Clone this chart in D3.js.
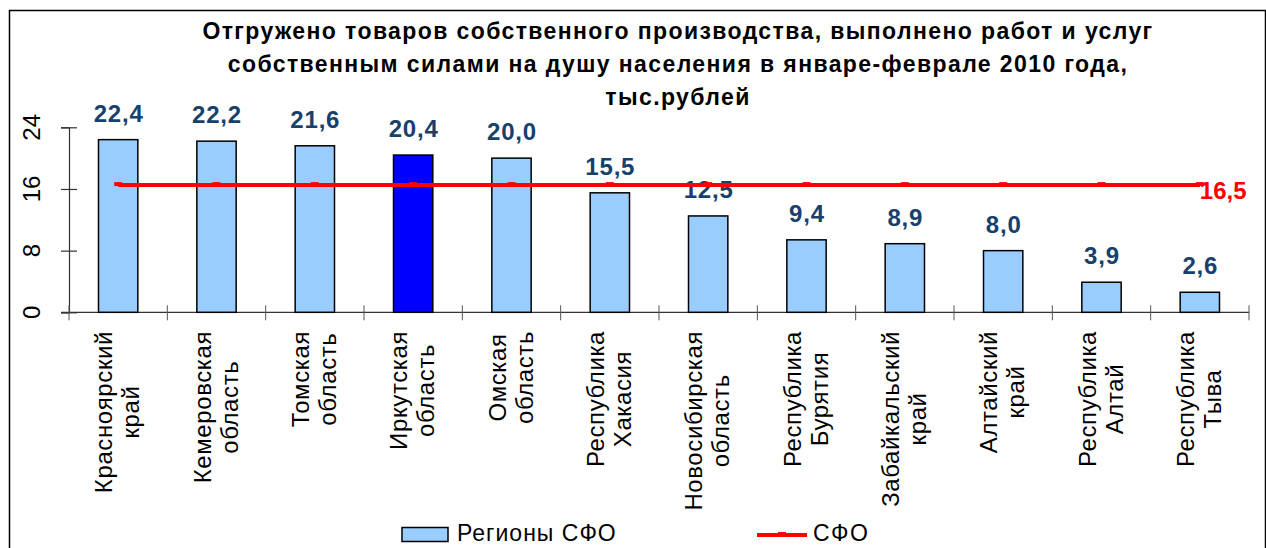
<!DOCTYPE html>
<html>
<head>
<meta charset="utf-8">
<script src="https://cdn.jsdelivr.net/npm/d3@7"></script>
<style>
  body { margin: 0; background: #fff; }
  svg { display: block; font-family: Arial, "Liberation Sans", sans-serif; }
</style>
</head>
<body>
<svg id="chart" width="1266" height="548"></svg>
<script>
var titleLines = [
	"Отгружено товаров собственного производства, выполнено работ и услуг",
	"собственным силами на душу населения в январе-феврале 2010 года,",
	"тыс.рублей"
];
var regions = [
	["Красноярский", "край"],
	["Кемеровская", "область"],
	["Томская", "область"],
	["Иркутская", "область"],
	["Омская", "область"],
	["Республика", "Хакасия"],
	["Новосибирская", "область"],
	["Республика", "Бурятия"],
	["Забайкальский", "край"],
	["Алтайский", "край"],
	["Республика", "Алтай"],
	["Республика", "Тыва"]
];
var values = [22.4, 22.2, 21.6, 20.4, 20.0, 15.5, 12.5, 9.4, 8.9, 8.0, 3.9, 2.6];
var sfo = 16.5;
var highlight = "Иркутская";
var yTicks = [0, 8, 16, 24];
var legendNames = ["Регионы СФО", "СФО"];

var svg = d3.select("#chart");
var fmt = function(v) { return d3.format(".1f")(v).replace(".", ","); };

// frame
svg.append("rect")
	.attr("x", 9.5).attr("y", 10.5)
	.attr("width", 1256).attr("height", 600)
	.attr("fill", "none").attr("stroke", "#000").attr("stroke-width", 1.5);

// title
svg.append("g").selectAll("text")
	.data(titleLines)
	.enter().append("text")
	.attr("x", 678)
	.attr("y", function(d, i) { return 39 + i * 33; })
	.attr("text-anchor", "middle")
	.attr("font-size", 23)
	.attr("font-weight", "bold")
	.attr("letter-spacing", 1.4)
	.attr("fill", "#000")
	.text(function(d) { return d; });

var idx = d3.range(values.length);
var x = d3.scaleBand().domain(idx).range([69, 1249]).padding(0);
var y = d3.scaleLinear().domain([0, 24]).range([312.3, 127.3]);
var bw = x.bandwidth() * 0.4;
var cx = function(i) { return x(i) + x.bandwidth() / 2; };

// y axis
var yAxis = svg.append("g")
	.attr("transform", "translate(69,0)")
	.call(d3.axisLeft(y).tickValues(yTicks).tickSize(8).tickFormat(""));
yAxis.select(".domain").attr("stroke", "#333").attr("stroke-width", 1.2);
yAxis.selectAll(".tick line").attr("x1", 8).attr("stroke", "#333").attr("stroke-width", 1.2);

svg.append("g").selectAll("text")
	.data(yTicks)
	.enter().append("text")
	.attr("transform", function(d) { return "translate(31," + y(d) + ") rotate(-90)"; })
	.attr("text-anchor", "middle")
	.attr("dominant-baseline", "central")
	.attr("font-size", 24)
	.attr("fill", "#000")
	.text(function(d) { return d; });

// x axis
var xg = svg.append("g");
xg.append("line")
	.attr("x1", 61).attr("x2", x.range()[1])
	.attr("y1", y(0)).attr("y2", y(0))
	.attr("stroke", "#333").attr("stroke-width", 1.2);
xg.selectAll(".xt")
	.data(d3.range(values.length + 1))
	.enter().append("line")
	.attr("class", "xt")
	.attr("x1", function(d) { return 69 + d * x.step(); })
	.attr("x2", function(d) { return 69 + d * x.step(); })
	.attr("y1", y(0) - 7).attr("y2", y(0) + 8)
	.attr("stroke", "#555").attr("stroke-width", 1);

// bars
svg.append("g").selectAll("rect")
	.data(idx)
	.enter().append("rect")
	.attr("x", function(i) { return x(i) + (x.bandwidth() - bw) / 2; })
	.attr("y", function(i) { return y(values[i]); })
	.attr("width", bw)
	.attr("height", function(i) { return y(0) - y(values[i]); })
	.attr("fill", function(i) { return regions[i][0] == highlight ? "#0000FF" : "#99CCFF"; })
	.attr("stroke", "#000").attr("stroke-width", 1.5);

// value labels
svg.append("g").selectAll("text")
	.data(idx)
	.enter().append("text")
	.attr("x", function(i) { return cx(i) + 0.5; })
	.attr("y", function(i) { return y(values[i]) - 18; })
	.attr("text-anchor", "middle")
	.attr("font-size", 24)
	.attr("font-weight", "bold")
	.attr("letter-spacing", 0.8)
	.attr("fill", "#17406d")
	.text(function(i) { return fmt(values[i]); });

// SFO line
var line = d3.line().x(function(i) { return cx(i); }).y(function() { return y(sfo); });
svg.append("path")
	.datum(idx)
	.attr("d", line)
	.attr("fill", "none").attr("stroke", "#FF0000").attr("stroke-width", 4);
svg.append("g").selectAll("rect")
	.data(idx)
	.enter().append("rect")
	.attr("x", function(i) { return cx(i) - 4; })
	.attr("y", y(sfo) - 3)
	.attr("width", 8).attr("height", 4)
	.attr("fill", "#FF0000");
svg.append("text")
	.attr("x", cx(values.length - 1))
	.attr("y", y(sfo) + 14)
	.attr("font-size", 24)
	.attr("font-weight", "bold")
	.attr("fill", "#FF0000")
	.text(fmt(sfo));

// category labels, rotated, lines centred on each other
var lab = svg.append("g").selectAll("text")
	.data(idx)
	.enter().append("text")
	.attr("font-size", 24)
	.attr("letter-spacing", 0.6)
	.attr("fill", "#000")
	.attr("text-anchor", "middle");
lab.each(function(i) {
	var t = d3.select(this);
	var n = regions[i].length;
	regions[i].forEach(function(s, k) {
		t.append("tspan")
			.attr("x", 0)
			.attr("y", (k - (n - 1) / 2) * 27)
			.attr("dominant-baseline", "central")
			.text(s);
	});
	var w = d3.max(t.selectAll("tspan").nodes(), function(n) { return n.getComputedTextLength(); });
	t.attr("transform", "translate(" + (cx(i) - 1) + "," + (331 + w / 2) + ") rotate(-90)");
});

// legend
var lg = svg.append("g");
lg.append("rect")
	.attr("x", 402).attr("y", 527.5).attr("width", 46).attr("height", 14)
	.attr("fill", "#99CCFF").attr("stroke", "#000").attr("stroke-width", 1.5);
lg.append("text")
	.attr("x", 457).attr("y", 541)
	.attr("font-size", 23).attr("letter-spacing", 1)
	.attr("fill", "#000")
	.text(legendNames[0]);
lg.append("line")
	.attr("x1", 757).attr("x2", 807).attr("y1", 535).attr("y2", 535)
	.attr("stroke", "#FF0000").attr("stroke-width", 4);
lg.append("rect")
	.attr("x", 778).attr("y", 532).attr("width", 8).attr("height", 4)
	.attr("fill", "#FF0000");
lg.append("text")
	.attr("x", 813).attr("y", 541)
	.attr("font-size", 23).attr("letter-spacing", 1.5)
	.attr("fill", "#000")
	.text(legendNames[1]);
</script>
</body>
</html>
